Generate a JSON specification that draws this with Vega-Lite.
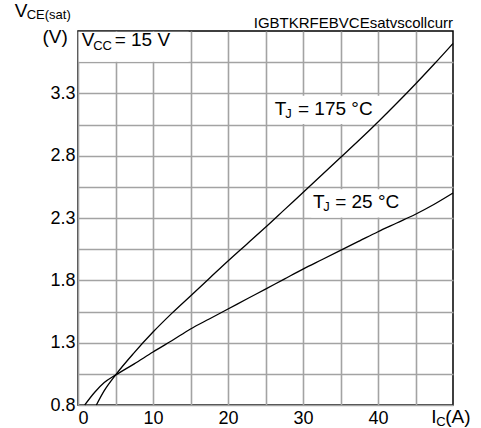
{
  "$schema": "https://vega.github.io/schema/vega-lite/v6.json",
  "width": 375,
  "height": 374,
  "autosize": {"type": "none"},
  "padding": {"left": 78, "top": 31, "right": 28, "bottom": 23},
  "background": "white",
  "config": {
    "view": {"stroke": "black", "strokeWidth": 1.5},
    "font": "Liberation Sans",
    "axis": {
      "domain": false,
      "ticks": false,
      "grid": true,
      "gridColor": "#a3a3a3",
      "gridWidth": 1.6,
      "gridOpacity": 1,
      "labelColor": "black",
      "labelFont": "Liberation Sans",
      "labelFontSize": 18,
      "title": null
    }
  },
  "datasets": {
    "curves": [
      {"Tj": "175", "Ic": 2.45, "Vce": 0.80},
      {"Tj": "175", "Ic": 3.5, "Vce": 0.915},
      {"Tj": "175", "Ic": 5, "Vce": 1.04},
      {"Tj": "175", "Ic": 7.5, "Vce": 1.22},
      {"Tj": "175", "Ic": 10, "Vce": 1.385},
      {"Tj": "175", "Ic": 12.5, "Vce": 1.535},
      {"Tj": "175", "Ic": 15, "Vce": 1.675},
      {"Tj": "175", "Ic": 17.5, "Vce": 1.815},
      {"Tj": "175", "Ic": 20, "Vce": 1.955},
      {"Tj": "175", "Ic": 22.5, "Vce": 2.09},
      {"Tj": "175", "Ic": 25, "Vce": 2.225},
      {"Tj": "175", "Ic": 27.5, "Vce": 2.365},
      {"Tj": "175", "Ic": 30, "Vce": 2.505},
      {"Tj": "175", "Ic": 32.5, "Vce": 2.645},
      {"Tj": "175", "Ic": 35, "Vce": 2.785},
      {"Tj": "175", "Ic": 37.5, "Vce": 2.925},
      {"Tj": "175", "Ic": 40, "Vce": 3.07},
      {"Tj": "175", "Ic": 42.5, "Vce": 3.22},
      {"Tj": "175", "Ic": 45, "Vce": 3.375},
      {"Tj": "175", "Ic": 47.5, "Vce": 3.535},
      {"Tj": "175", "Ic": 50, "Vce": 3.70},
      {"Tj": "25", "Ic": 0.9, "Vce": 0.80},
      {"Tj": "25", "Ic": 2.2, "Vce": 0.90},
      {"Tj": "25", "Ic": 3.5, "Vce": 0.98},
      {"Tj": "25", "Ic": 5, "Vce": 1.04},
      {"Tj": "25", "Ic": 7.5, "Vce": 1.13},
      {"Tj": "25", "Ic": 10, "Vce": 1.225},
      {"Tj": "25", "Ic": 12.5, "Vce": 1.315},
      {"Tj": "25", "Ic": 15, "Vce": 1.41},
      {"Tj": "25", "Ic": 17.5, "Vce": 1.49},
      {"Tj": "25", "Ic": 20, "Vce": 1.57},
      {"Tj": "25", "Ic": 22.5, "Vce": 1.65},
      {"Tj": "25", "Ic": 25, "Vce": 1.73},
      {"Tj": "25", "Ic": 27.5, "Vce": 1.81},
      {"Tj": "25", "Ic": 30, "Vce": 1.89},
      {"Tj": "25", "Ic": 32.5, "Vce": 1.965},
      {"Tj": "25", "Ic": 35, "Vce": 2.04},
      {"Tj": "25", "Ic": 37.5, "Vce": 2.115},
      {"Tj": "25", "Ic": 40, "Vce": 2.19},
      {"Tj": "25", "Ic": 42.5, "Vce": 2.26},
      {"Tj": "25", "Ic": 45, "Vce": 2.33},
      {"Tj": "25", "Ic": 47.5, "Vce": 2.41},
      {"Tj": "25", "Ic": 50, "Vce": 2.50}
    ],
    "boxes": [
      {"bx0": 0.1, "bx1": 14.76, "by0": 3.553, "by1": 3.794},
      {"bx0": 26.2, "bx1": 41.2, "by0": 3.055, "by1": 3.28},
      {"bx0": 31.1, "bx1": 43.6, "by0": 2.305, "by1": 2.53}
    ],
    "mainText": [
      {"tx": -8.44, "ty": 3.915, "t": "V"},
      {"tx": -4.75, "ty": 3.704, "t": "(V)"},
      {"tx": 0.49, "ty": 3.682, "t": "V"},
      {"tx": 4.89, "ty": 3.682, "t": "= 15 V"},
      {"tx": 26.23, "ty": 3.129, "t": "T"},
      {"tx": 29.33, "ty": 3.129, "t": "= 175 °C"},
      {"tx": 31.33, "ty": 2.382, "t": "T"},
      {"tx": 34.29, "ty": 2.382, "t": "= 25 °C"},
      {"tx": 47.09, "ty": 0.659, "t": "I"},
      {"tx": 48.96, "ty": 0.659, "t": "(A)"}
    ],
    "subText": [
      {"tx": -6.84, "ty": 3.895, "t": "CE(sat)"},
      {"tx": 2.03, "ty": 3.646, "t": "CC"},
      {"tx": 27.63, "ty": 3.101, "t": "J"},
      {"tx": 32.69, "ty": 2.356, "t": "J"},
      {"tx": 47.76, "ty": 0.629, "t": "C"}
    ],
    "titleText": [
      {"tx": 50, "ty": 3.826, "t": "IGBTKRFEBVCEsatvscollcurr"}
    ]
  },
  "encoding": {
    "x": {
      "type": "quantitative",
      "scale": {"domain": [0, 50], "nice": false, "zero": false},
      "axis": {
        "grid": true,
        "values": [0, 5, 10, 15, 20, 25, 30, 35, 40, 45],
        "format": "d",
        "labelExpr": "datum.value % 10 == 0 ? datum.label : ''",
        "labelPadding": 4,
        "labelFlush": true
      }
    },
    "y": {
      "type": "quantitative",
      "scale": {"domain": [0.8, 3.8], "nice": false, "zero": false},
      "axis": {
        "grid": true,
        "values": [0.8, 1.05, 1.3, 1.55, 1.8, 2.05, 2.3, 2.55, 2.8, 3.05, 3.3, 3.55],
        "format": ".1f",
        "labelExpr": "round(datum.value * 100) % 50 == 30 ? datum.label : ''",
        "labelPadding": 3,
        "labelFlush": false
      }
    }
  },
  "layer": [
    {
      "data": {"name": "boxes"},
      "mark": {"type": "rect", "color": "white", "fill": "white", "opacity": 1},
      "encoding": {
        "x": {"field": "bx0", "type": "quantitative"},
        "x2": {"field": "bx1"},
        "y": {"field": "by0", "type": "quantitative"},
        "y2": {"field": "by1"}
      }
    },
    {
      "data": {"name": "curves"},
      "mark": {"type": "line", "color": "black", "strokeWidth": 1.3, "interpolate": "monotone"},
      "encoding": {
        "x": {"field": "Ic", "type": "quantitative"},
        "y": {"field": "Vce", "type": "quantitative"},
        "detail": {"field": "Tj", "type": "nominal"}
      }
    },
    {
      "data": {"name": "mainText"},
      "mark": {"type": "text", "align": "left", "baseline": "alphabetic", "fontSize": 19, "color": "black", "font": "Liberation Sans"},
      "encoding": {
        "x": {"field": "tx", "type": "quantitative"},
        "y": {"field": "ty", "type": "quantitative"},
        "text": {"field": "t", "type": "nominal"}
      }
    },
    {
      "data": {"name": "subText"},
      "mark": {"type": "text", "align": "left", "baseline": "alphabetic", "fontSize": 13, "color": "black", "font": "Liberation Sans"},
      "encoding": {
        "x": {"field": "tx", "type": "quantitative"},
        "y": {"field": "ty", "type": "quantitative"},
        "text": {"field": "t", "type": "nominal"}
      }
    },
    {
      "data": {"name": "titleText"},
      "mark": {"type": "text", "align": "right", "baseline": "alphabetic", "fontSize": 15, "color": "black", "font": "Liberation Sans"},
      "encoding": {
        "x": {"field": "tx", "type": "quantitative"},
        "y": {"field": "ty", "type": "quantitative"},
        "text": {"field": "t", "type": "nominal"}
      }
    }
  ]
}
